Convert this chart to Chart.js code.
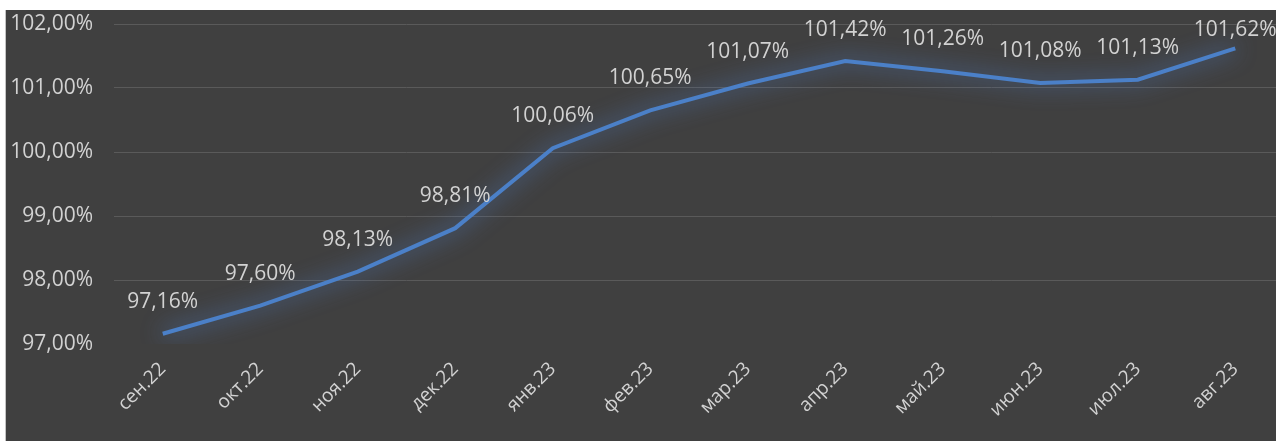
<!DOCTYPE html>
<html>
<head>
<meta charset="utf-8">
<script src="https://cdn.jsdelivr.net/npm/chart.js@4/dist/chart.umd.min.js"></script>
<style>
  html, body { margin: 0; padding: 0; background: #fff; overflow: hidden; width: 1276px; height: 441px; }
  #frame { position: absolute; left: 5px; top: 10px; width: 1290px; height: 431px;
           border-left: 1px solid #c4c4c4; background: #404040; overflow: hidden; }
  canvas { display: block; }
</style>
</head>
<body>
<div id="frame"><canvas id="myChart" width="1290" height="431"></canvas></div>
<script>
// data
var months = ['сен.22', 'окт.22', 'ноя.22', 'дек.22', 'янв.23', 'фев.23',
              'мар.23', 'апр.23', 'май.23', 'июн.23', 'июл.23', 'авг.23'];
var values = [97.16, 97.60, 98.13, 98.81, 100.06, 100.65,
              101.07, 101.42, 101.26, 101.08, 101.13, 101.62];
var yMin = 97, yMax = 102, yStep = 1;

var textColor = '#d2d2d2';
var fontFamily = '"Open Sans", "Noto Sans", sans-serif';

function fmt(v) {
    return v.toFixed(2).replace('.', ',') + '%';
}

// soft blue glow under the line
var glow = {
    id: 'glow',
    beforeDatasetDraw: function (chart) {
        var ctx = chart.ctx;
        ctx.save();
        ctx.shadowColor = 'rgba(85, 140, 230, 0.9)';
        ctx.shadowBlur = 22;
    },
    afterDatasetDraw: function (chart) {
        chart.ctx.restore();
    }
};

// value labels above points
var valueLabels = {
    id: 'valueLabels',
    afterDatasetsDraw: function (chart) {
        var ctx = chart.ctx;
        var meta = chart.getDatasetMeta(0);
        ctx.save();
        ctx.font = '21px ' + fontFamily;
        ctx.fillStyle = textColor;
        ctx.textAlign = 'center';
        ctx.textBaseline = 'middle';
        meta.data.forEach(function (pt, i) {
            var y = Math.max(pt.y - 32, chart.chartArea.top + 6);
            ctx.fillText(fmt(values[i]), pt.x, y);
        });
        ctx.restore();
    }
};

var ctx = document.getElementById('myChart').getContext('2d');
var chart = new Chart(ctx, {
    type: 'line',
    data: {
        labels: months,
        datasets: [{
            data: values,
            borderColor: '#4b80c8',
            borderWidth: 4,
            pointRadius: 0,
            tension: 0,
            fill: false
        }]
    },
    options: {
        responsive: false,
        animation: false,
        layout: { padding: { top: 14, right: 12, left: 0, bottom: 0 } },
        plugins: { legend: { display: false }, tooltip: { enabled: false } },
        scales: {
            x: {
                offset: true,
                grid: { display: false },
                border: { display: false },
                ticks: {
                    color: textColor,
                    font: { family: fontFamily, size: 19 },
                    minRotation: 45,
                    maxRotation: 45,
                    padding: 6
                },
                afterFit: function (scale) { scale.height = 97; }
            },
            y: {
                min: yMin,
                max: yMax,
                border: { display: false },
                grid: {
                    drawTicks: false,
                    lineWidth: 1,
                    color: function (c) { return c.tick && c.tick.value === yMin ? 'rgba(0,0,0,0)' : '#5a5a5a'; }
                },
                ticks: {
                    stepSize: yStep,
                    color: textColor,
                    padding: 21,
                    font: { family: fontFamily, size: 21 },
                    callback: function (v) { return fmt(v); }
                },
                afterFit: function (scale) {
                    scale.width = 108;
                    scale.paddingTop = 0;
                    scale.paddingBottom = 0;
                }
            }
        }
    },
    plugins: [glow, valueLabels]
});
</script>
</body>
</html>
